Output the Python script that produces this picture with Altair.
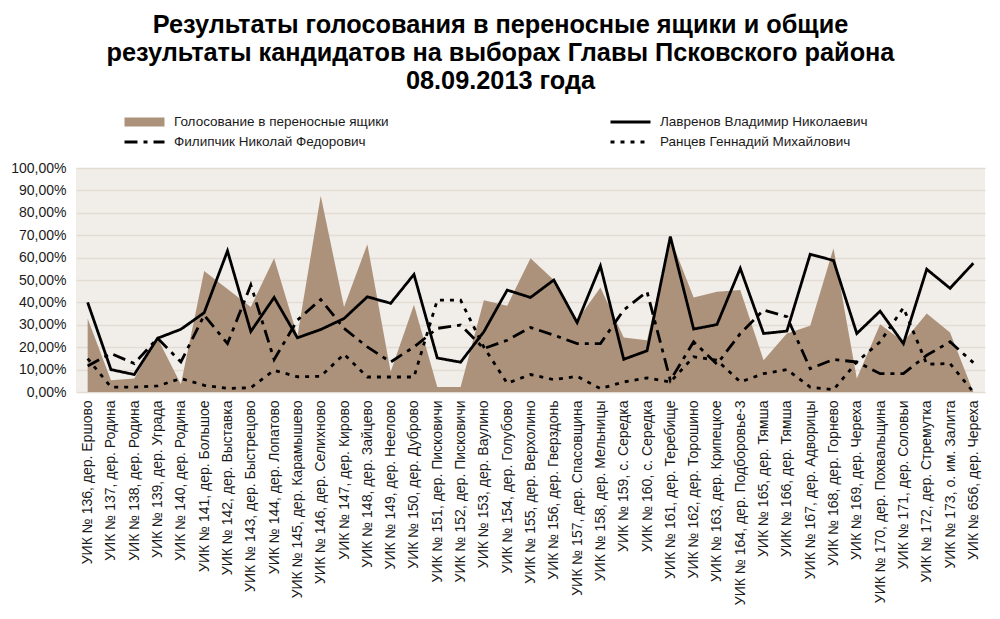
import altair as alt
import pandas as pd

labels = [
    "УИК № 136, дер. Ершово", "УИК № 137, дер. Родина", "УИК № 138, дер. Родина",
    "УИК № 139, дер. Уграда", "УИК № 140, дер. Родина", "УИК № 141, дер. Большое",
    "УИК № 142, дер. Выставка", "УИК № 143, дер. Быстрецово", "УИК № 144, дер. Лопатово",
    "УИК № 145, дер. Карамышево", "УИК № 146, дер. Селихново", "УИК № 147, дер. Кирово",
    "УИК № 148, дер. Зайцево", "УИК № 149, дер. Неелово", "УИК № 150, дер. Дуброво",
    "УИК № 151, дер. Писковичи", "УИК № 152, дер. Писковичи", "УИК № 153, дер. Ваулино",
    "УИК № 154, дер. Голубово", "УИК № 155, дер. Верхолино", "УИК № 156, дер. Гверздонь",
    "УИК № 157, дер. Спасовщина", "УИК № 158, дер. Мельницы", "УИК № 159, с. Середка",
    "УИК № 160, с. Середка", "УИК № 161, дер. Теребище", "УИК № 162, дер. Торошино",
    "УИК № 163, дер. Крипецкое", "УИК № 164, дер. Подборовье-3", "УИК № 165, дер. Тямша",
    "УИК № 166, дер. Тямша", "УИК № 167, дер. Адворицы", "УИК № 168, дер. Горнево",
    "УИК № 169, дер. Череха", "УИК № 170, дер. Похвальщина", "УИК № 171, дер. Соловьи",
    "УИК № 172, дер. Стремутка", "УИК № 173, о. им. Залита", "УИК № 656, дер. Череха",
]

portable = [32.8, 5.2, 6.0, 24.0, 3.5, 54.0, 46.0, 38.0, 59.7, 25.0,
            87.6, 38.0, 66.0, 9.0, 39.0, 2.2, 2.2, 41.0, 38.5, 59.7,
            50.0, 32.0, 46.6, 24.3, 23.1, 68.7, 42.2, 44.8, 45.5, 14.2,
            26.1, 29.6, 64.2, 6.0, 30.3, 22.4, 35.0, 26.6, 0.0]
lavrenov = [40.0, 10.0, 7.8, 24.0, 28.0, 35.4, 63.0, 27.0, 42.2, 24.2,
            27.9, 32.8, 42.5, 39.6, 52.5, 15.2, 13.3, 26.9, 45.5, 42.2,
            50.0, 31.0, 56.3, 14.6, 18.4, 69.4, 28.1, 30.1, 55.2, 26.1,
            27.2, 61.5, 58.7, 26.1, 36.1, 21.6, 54.8, 46.3, 57.5]
filipchik = [11.6, 17.2, 12.7, 24.0, 13.4, 34.3, 21.6, 47.8, 14.5, 32.1,
             41.3, 28.4, 20.1, 13.4, 20.1, 28.4, 29.9, 19.4, 23.1, 28.8,
             25.4, 21.6, 21.6, 36.6, 44.8, 5.2, 22.4, 12.4, 26.1, 36.6,
             33.6, 10.4, 14.5, 13.4, 8.2, 8.2, 16.4, 22.4, 13.1]
rantsev = [14.9, 2.2, 2.2, 2.7, 6.0, 3.0, 1.6, 1.9, 9.7, 6.8,
           7.0, 16.9, 6.7, 6.7, 6.7, 41.0, 41.0, 20.0, 3.9, 7.8,
           5.5, 7.0, 1.5, 4.5, 6.3, 4.5, 15.7, 14.2, 4.5, 8.2,
           10.0, 2.2, 1.0, 13.4, 22.4, 37.6, 12.4, 12.7, 0.0]

s_area = "Голосование в переносные ящики"
s_lav = "Лавренов Владимир Николаевич"
s_fil = "Филипчик Николай Федорович"
s_ran = "Ранцев Геннадий Михайлович"
# legend is filled column by column: left column (area, Филипчик), right column (Лавренов, Ранцев)
series_order = [s_area, s_fil, s_lav, s_ran]

FONT = "Liberation Sans, Arial, sans-serif"
AREA_COLOR = "#AD927B"

area_df = pd.DataFrame({"uik": labels, "value": portable})
rows = []
for name, vals in [(s_lav, lavrenov), (s_fil, filipchik), (s_ran, rantsev)]:
    for lab, v in zip(labels, vals):
        rows.append({"uik": lab, "value": v, "series": name})
line_df = pd.DataFrame(rows)

x_enc = alt.X(
    "uik:N", sort=labels, title=None,
    scale=alt.Scale(type="point", padding=0.5),
    axis=alt.Axis(labelAngle=-90, labelAlign="right", labelBaseline="middle",
                  labelPadding=8, labelFontSize=14, labelFont=FONT,
                  labelColor="#1a1a1a", labelLimit=260, ticks=False, domain=False,
                  grid=False, labelOverlap=False),
)
y_enc = alt.Y(
    "value:Q", title=None,
    scale=alt.Scale(domain=[0, 100], nice=False),
    axis=alt.Axis(values=list(range(0, 101, 10)), tickCount=11,
                  labelExpr="replace(format(datum.value, '.2f'), '.', ',') + '%'",
                  labelFontSize=14, labelFont=FONT, labelColor="#1a1a1a",
                  labelPadding=10, ticks=False, domain=False, labelOverlap=False,
                  grid=True, gridColor="#E4DBD2", gridWidth=1.5),
)

area = alt.Chart(area_df).mark_area(color=AREA_COLOR, opacity=1).encode(x=x_enc, y=y_enc)

lines = alt.Chart(line_df).mark_line(strokeCap="butt", strokeJoin="miter").encode(
    x=x_enc,
    y=y_enc,
    color=alt.Color(
        "series:N",
        scale=alt.Scale(domain=series_order, range=[AREA_COLOR, "#000000", "#000000", "#000000"]),
        legend=alt.Legend(
            title=None, orient="none", legendX=44, legendY=-56, columns=2,
            columnPadding=217, rowPadding=0, clipHeight=20,
            symbolType="M-1,0L3,0", symbolSize=400,
            labelFontSize=13.5, labelFont=FONT, labelColor="#1a1a1a", labelOffset=25,
            labelLimit=300,
        ),
    ),
    strokeDash=alt.StrokeDash(
        "series:N",
        scale=alt.Scale(domain=series_order, range=[[1, 0], [13, 6, 4, 6], [1, 0], [4, 6]]),
        legend=alt.Legend(title=None),
    ),
    strokeWidth=alt.StrokeWidth(
        "series:N",
        scale=alt.Scale(type="ordinal", domain=series_order, range=[9, 2.8, 2.8, 2.8]),
        legend=alt.Legend(title=None),
    ),
    detail="series:N",
)

chart = alt.layer(area, lines).properties(
    width=909, height=224,
    padding={"left": 68, "top": 160, "right": 7, "bottom": 219},
    autosize=alt.AutoSizeParams(type="none"),
    background="white",
    title=alt.Title(
        ["Результаты голосования в переносные ящики и общие",
         "результаты кандидатов на выборах Главы Псковского района",
         "08.09.2013 года"],
        fontSize=25.3, fontWeight="bold", font=FONT, color="#000000",
        lineHeight=28, anchor="middle", dx=-30, offset=18,
    ),
).configure_view(fill="#F1EEEA", stroke=None)

chart.save("out.html", embed_options={"renderer": "svg", "actions": False})
